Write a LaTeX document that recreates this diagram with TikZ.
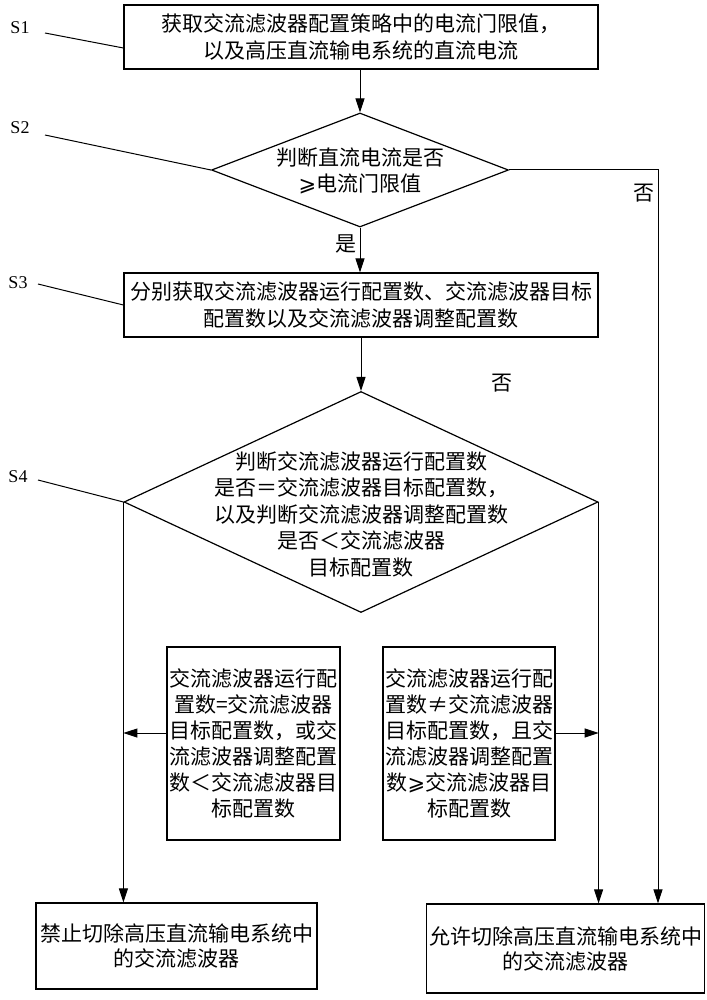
\documentclass[tikz,border=0pt]{standalone}
\usepackage{fontspec}
\setmainfont{Noto Sans CJK SC}
\newfontfamily\lat{Liberation Serif}
\newfontfamily\sym{DejaVu Sans}
\usetikzlibrary{shapes.geometric,arrows.meta}
\begin{document}
\begin{tikzpicture}[x=1pt,y=-1pt,
  box/.style={draw,line width=1.2pt,inner sep=0pt,align=center,font=\fontsize{21}{27}\selectfont},
  dia/.style={draw,line width=1.2pt,diamond,inner sep=0pt},
  txt/.style={align=center,inner sep=0pt,font=\fontsize{21}{26.5}\selectfont},
  slab/.style={inner sep=0pt,font=\lat\fontsize{18}{20}\selectfont},
  lead/.style={line width=1pt},
  arr/.style={line width=1pt,-{Triangle[length=14pt,width=9pt]}}]
\useasboundingbox (0,0) rectangle (706,1000);
% boxes
\node[box,minimum width=474pt,minimum height=64pt] (b1) at (361,37)
  {获取交流滤波器配置策略中的电流门限值，\\以及高压直流输电系统的直流电流};
\node[dia,minimum width=297pt,minimum height=114pt] (d2) at (360,170) {};
\node[txt] (d2t) at (360,171) {判断直流电流是否\\{\sym ⩾}电流门限值};
\node[box,minimum width=474pt,minimum height=64pt] (b3) at (361,305)
  {分别获取交流滤波器运行配置数、交流滤波器目标\\配置数以及交流滤波器调整配置数};
\node[dia,minimum width=474pt,minimum height=221pt] (d4) at (361,502) {};
\node[txt] (d4t) at (361,514) {判断交流滤波器运行配置数\\是否＝交流滤波器目标配置数，\\以及判断交流滤波器调整配置数\\是否＜交流滤波器\\目标配置数};
\node[box,minimum width=173pt,minimum height=193pt,font=\fontsize{21}{26}\selectfont] (m1) at (253.5,743.5)
  {交流滤波器运行配\\置数=交流滤波器\\目标配置数，或交\\流滤波器调整配置\\数＜交流滤波器目\\标配置数};
\node[box,minimum width=172pt,minimum height=193pt,font=\fontsize{21}{26}\selectfont] (m2) at (469,743.5)
  {交流滤波器运行配\\置数≠交流滤波器\\目标配置数，且交\\流滤波器调整配置\\数{\sym ⩾}交流滤波器目\\标配置数};
\node[box,minimum width=281pt,minimum height=86pt,font=\fontsize{21}{25}\selectfont] (b5) at (176.5,946)
  {禁止切除高压直流输电系统中\\的交流滤波器};
\node[box,minimum width=278pt,minimum height=89pt,font=\fontsize{21}{25}\selectfont] (b6) at (565.5,948.5)
  {允许切除高压直流输电系统中\\的交流滤波器};
% step labels
\node[slab] (s1) at (20,28) {S1};
\node[slab] (s2) at (20,128) {S2};
\node[slab] (s3) at (18,283) {S3};
\node[slab] (s4) at (18,477) {S4};
\coordinate (l1) at (45,33);
\coordinate (l2) at (45,135);
\coordinate (l3) at (38,284);
\coordinate (l4) at (38,480);
\draw[lead] (l1) -- (b1.west |- 0,48);
\draw[lead] (l2) -- (d2.west);
\draw[lead] (l3) -- (b3.west |- 0,305);
\draw[lead] (l4) -- (d4.west);
% connectors
\draw[arr] (b1.south -| d2.north) -- (d2.north);
\draw[arr] (d2.south) -- (d2.south |- b3.north);
\node[txt] (yes) at (346,244) {是};
\draw[arr] (b3.south) -- (d4.north);
\node[txt] (no2) at (502,383) {否};
\coordinate (r) at (658,170);
\draw[arr] (d2.east) -- (r) -- (r |- b6.north);
\node[txt] (no1) at (644,193) {否};
\draw[arr] (d4.west) -- (d4.west |- b5.north);
\draw[arr] (d4.east) -- (d4.east |- b6.north);
\draw[arr] ([yshift=10.5pt]m1.west) -- ([yshift=10.5pt]m1.west -| d4.west);
\draw[arr] ([yshift=10.5pt]m2.east) -- ([yshift=10.5pt]m2.east -| d4.east);
\end{tikzpicture}
\end{document}
